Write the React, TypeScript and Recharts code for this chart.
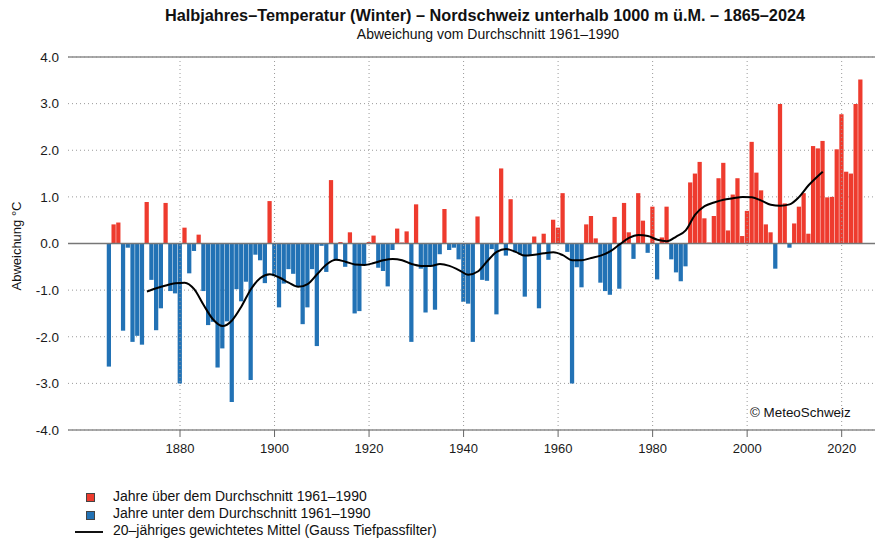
import React from 'react';
import {
  ComposedChart,
  Bar,
  Line,
  XAxis,
  YAxis,
  CartesianGrid,
  ReferenceLine,
  Cell,
} from 'recharts';

const FIRST_YEAR = 1865;

// Winter half-year temperature anomaly vs 1961-1990 (°C), 1865-2024, one row per decade
const anomalies: number[] = [
  // 1865-1869
  -2.64, 0.41, 0.45, -1.87, -0.09,
  // 1870-1879
  -2.11, -1.98, -2.17, 0.89, -0.78, -1.86, -1.39, 0.87, -1.02, -1.07,
  // 1880-1889
  -3.0, 0.34, -0.64, -0.16, 0.19, -1.02, -1.75, -1.68, -2.66, -2.25,
  // 1890-1899
  -1.67, -3.4, -0.98, -1.24, -0.82, -2.93, -0.24, -0.36, -0.85, 0.91,
  // 1900-1909
  -0.7, -1.37, -0.86, -0.55, -0.65, -0.93, -1.73, -1.37, -0.55, -2.2,
  // 1910-1919
  -0.05, -0.61, 1.36, -0.34, 0.03, -0.5, 0.24, -1.5, -1.45, -0.47,
  // 1920-1929
  0.03, 0.17, -0.52, -0.59, -0.92, -0.14, 0.32, 0.02, 0.26, -2.11,
  // 1930-1939
  0.84, -0.54, -1.48, -0.48, -1.42, -0.23, 0.74, -0.14, -0.09, -0.34,
  // 1940-1949
  -1.25, -1.29, -2.11, 0.58, -0.78, -0.8, -0.12, -1.52, 1.61, -0.26,
  // 1950-1959
  0.95, -0.19, -0.23, -1.14, -0.26, 0.15, -1.39, 0.21, -0.35, 0.51,
  // 1960-1969
  0.34, 1.08, -0.18, -3.0, -0.51, -0.94, 0.41, 0.59, 0.11, -0.84,
  // 1970-1979
  -1.02, -1.1, 0.57, -0.97, 0.87, 0.24, -0.33, 1.08, 0.49, -0.2,
  // 1980-1989
  0.79, -0.77, 0.13, 0.79, -0.34, -0.62, -0.81, -0.49, 1.31, 1.5,
  // 1990-1999
  1.75, 0.54, 0.02, 0.59, 1.4, 1.73, 0.28, 1.05, 1.4, 0.16,
  // 2000-2009
  0.7, 2.18, 1.52, 1.14, 0.41, 0.24, -0.54, 2.99, 0.86, -0.09,
  // 2010-2019
  0.43, 0.79, 1.08, 0.21, 2.09, 2.04, 2.2, 0.99, 1.0, 2.02,
  // 2020-2024
  2.77, 1.54, 1.5, 2.99, 3.52,
];

// 20-year Gaussian low-pass curve at these years
const smoothYears: number[] = [
  1873, 1875, 1877, 1879, 1881, 1883, 1885, 1887, 1889, 1891, 1893, 1895, 1897, 1899,
  1901, 1903, 1905, 1907, 1909, 1911, 1913, 1915, 1917, 1919, 1921, 1923, 1925, 1927,
  1929, 1931, 1933, 1935, 1937, 1939, 1941, 1943, 1945, 1947, 1949, 1951, 1953, 1955,
  1957, 1959, 1961, 1963, 1965, 1967, 1969, 1971, 1973, 1975, 1977, 1979, 1981, 1983,
  1985, 1987, 1989, 1991, 1993, 1995, 1997, 1999, 2001, 2003, 2005, 2007, 2009, 2011,
  2013, 2015, 2016,
];
const smoothValues: number[] = [
  -1.03, -0.96, -0.9, -0.85, -0.84, -0.98, -1.32, -1.63, -1.77, -1.65, -1.35, -0.98, -0.74, -0.66,
  -0.73, -0.84, -0.93, -0.87, -0.66, -0.45, -0.35, -0.39, -0.45, -0.46, -0.42, -0.36, -0.33, -0.36,
  -0.44, -0.48, -0.48, -0.44, -0.48, -0.57, -0.67, -0.6, -0.38, -0.18, -0.12, -0.18, -0.26, -0.24,
  -0.21, -0.19, -0.25, -0.36, -0.36, -0.31, -0.26, -0.17, -0.02, 0.12, 0.18, 0.16, 0.08, 0.05,
  0.15, 0.28, 0.62, 0.8, 0.88, 0.94, 0.97, 1.0, 0.99, 0.92, 0.83, 0.81, 0.84, 1.0,
  1.25, 1.45, 1.54,
];

const xTicks: number[] = [1880, 1900, 1920, 1940, 1960, 1980, 2000, 2020];
const yTicks: number[] = [-4, -3, -2, -1, 0, 1, 2, 3, 4];

const TITLE = 'Halbjahres–Temperatur (Winter) – Nordschweiz unterhalb 1000 m ü.M. – 1865–2024';
const SUBTITLE = 'Abweichung vom Durchschnitt 1961–1990';
const Y_LABEL = 'Abweichung °C';
const LEGEND_ABOVE = 'Jahre über dem Durchschnitt 1961–1990';
const LEGEND_BELOW = 'Jahre unter dem Durchschnitt 1961–1990';
const LEGEND_LINE = '20–jähriges gewichtetes Mittel (Gauss Tiefpassfilter)';
const COPYRIGHT = '© MeteoSchweiz';

const RED = '#EE3B2E';
const BLUE = '#2272B5';
const FONT = '"Liberation Sans", Arial, Helvetica, sans-serif';

const smoothMap: Record<number, number> = {};
smoothYears.forEach((y, i) => {
  smoothMap[y] = smoothValues[i];
});

const data = anomalies.map((v, i) => {
  const year = FIRST_YEAR + i;
  return {
    year,
    value: v,
    smooth: smoothMap[year] !== undefined ? smoothMap[year] : null,
  };
});

const PX_PER_YEAR = 4.7264;

export default function App() {
  return (
    <div
      style={{
        position: 'absolute',
        left: 0,
        top: 0,
        width: 890,
        height: 539,
        background: '#fff',
        fontFamily: FONT,
        color: '#111',
      }}
    >
      <ComposedChart
        width={890}
        height={539}
        data={data}
        margin={{ top: 57, right: 15, bottom: 79, left: 0 }}
        style={{ fontFamily: FONT }}
      >
        <CartesianGrid stroke="#9a9a9a" strokeDasharray="1 3" vertical={false} />
        <XAxis
          dataKey="year"
          type="number"
          domain={[1856.3, 2027.05]}
          allowDataOverflow
          ticks={xTicks}
          interval={0}
          axisLine={false}
          tickLine={{ stroke: '#666' }}
          tickSize={7}
          tickMargin={7}
          height={30}
          tick={{ fontSize: 13, fill: '#1a1a1a' }}
        />
        <YAxis
          type="number"
          domain={[-4, 4]}
          ticks={yTicks}
          interval={0}
          allowDataOverflow
          width={68}
          axisLine={false}
          tickLine={false}
          tickMargin={3}
          tick={{ fontSize: 13.5, fill: '#1a1a1a' }}
          tickFormatter={(v: number) => v.toFixed(1)}
        />
        {xTicks.map((t) => (
          <ReferenceLine key={'vx' + t} x={t} stroke="#9a9a9a" strokeDasharray="1 3" />
        ))}
        <ReferenceLine y={4} stroke="#8c8c8c" strokeWidth={1.5} />
        <ReferenceLine y={-4} stroke="#8c8c8c" strokeWidth={1.5} />
        <Bar dataKey="value" barSize={PX_PER_YEAR} isAnimationActive={false}>
          {data.map((d) => (
            <Cell key={d.year} fill={d.value >= 0 ? RED : BLUE} />
          ))}
        </Bar>
        <ReferenceLine y={0} stroke="#777" strokeWidth={1.3} />
        <Line
          dataKey="smooth"
          type="monotone"
          connectNulls
          dot={false}
          stroke="#000"
          strokeWidth={2}
          isAnimationActive={false}
        />
      </ComposedChart>

      <div
        style={{
          position: 'absolute',
          left: 0,
          width: 970,
          top: 6,
          textAlign: 'center',
          fontSize: 16.3,
          fontWeight: 'bold',
          whiteSpace: 'nowrap',
        }}
      >
        {TITLE}
      </div>
      <div
        style={{
          position: 'absolute',
          left: 0,
          width: 976,
          top: 26,
          textAlign: 'center',
          fontSize: 14,
          whiteSpace: 'nowrap',
        }}
      >
        {SUBTITLE}
      </div>

      <div
        style={{
          position: 'absolute',
          left: 17 - 60,
          top: 246 - 9,
          width: 120,
          height: 18,
          lineHeight: '18px',
          textAlign: 'center',
          fontSize: 13,
          transform: 'rotate(-90deg)',
          whiteSpace: 'nowrap',
        }}
      >
        {Y_LABEL}
      </div>

      <div
        style={{
          position: 'absolute',
          left: 750,
          top: 405,
          fontSize: 13.4,
          whiteSpace: 'nowrap',
        }}
      >
        {COPYRIGHT}
      </div>

      <div style={{ position: 'absolute', left: 0, top: 488, fontSize: 14, lineHeight: '17px' }}>
        <div style={{ position: 'relative', height: 17, whiteSpace: 'nowrap' }}>
          <span
            style={{
              position: 'absolute',
              left: 86,
              top: 5,
              width: 7,
              height: 7,
              background: RED,
              border: '1px solid #444',
            }}
          />
          <span style={{ position: 'absolute', left: 113 }}>{LEGEND_ABOVE}</span>
        </div>
        <div style={{ position: 'relative', height: 17, whiteSpace: 'nowrap' }}>
          <span
            style={{
              position: 'absolute',
              left: 86,
              top: 6,
              width: 7,
              height: 7,
              background: BLUE,
              border: '1px solid #444',
            }}
          />
          <span style={{ position: 'absolute', left: 113 }}>{LEGEND_BELOW}</span>
        </div>
        <div style={{ position: 'relative', height: 17, whiteSpace: 'nowrap' }}>
          <span
            style={{
              position: 'absolute',
              left: 75,
              top: 9,
              width: 28,
              height: 2,
              background: '#111',
            }}
          />
          <span style={{ position: 'absolute', left: 113 }}>{LEGEND_LINE}</span>
        </div>
      </div>
    </div>
  );
}
